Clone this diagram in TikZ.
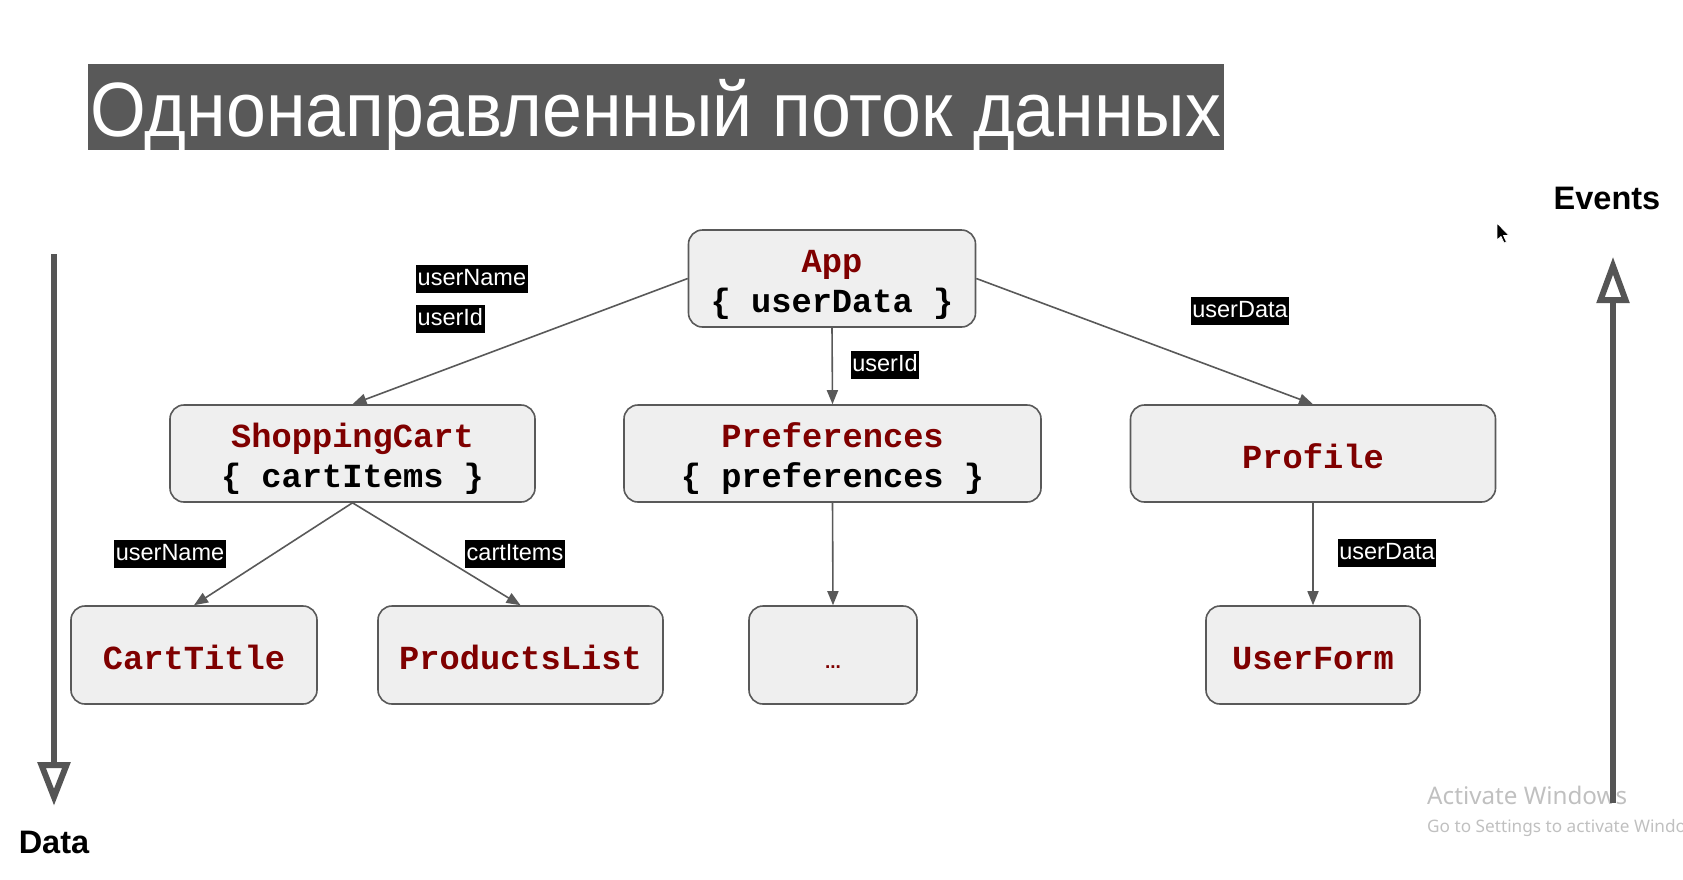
\documentclass[tikz,border=0pt]{standalone}
\usepackage{fontspec}
\usepackage{graphicx}
\setmainfont{Liberation Sans}
\setmonofont{Liberation Mono}
\newfontfamily\wmfont{Noto Sans}
\usetikzlibrary{arrows.meta}

\definecolor{boxfill}{HTML}{EFEFEF}
\definecolor{boxline}{HTML}{595959}
\definecolor{edgegray}{HTML}{595959}
\definecolor{compred}{HTML}{7F0000}
\definecolor{titlebar}{HTML}{595959}
\definecolor{flowgray}{HTML}{555555}
\definecolor{wmgray}{HTML}{C0C0C0}

\newcommand\cname[1]{\textcolor{compred}{#1}}
\newcommand\twolines[2]{\begin{tabular}[t]{@{}c@{}}#1\\#2\end{tabular}}

\begin{document}
\begin{tikzpicture}[x=1pt,y=-1pt,
  comp/.style={draw=boxline, fill=boxfill, line width=1.6pt, rounded corners=14pt,
    minimum height=97pt, inner sep=0pt, align=center,
    font=\ttfamily\bfseries\fontsize{33.7}{39.5}\selectfont},
  onetext/.style={text height=29pt, text depth=0pt},
  twotext/.style={text height=24pt, text depth=36pt},
  prop/.style={fill=black, text=white, font=\fontsize{23.5}{28}\selectfont,
    inner xsep=1.5pt, inner ysep=1.5pt, text height=19pt, text depth=6pt},
  flow/.style={draw=edgegray, line width=1.6pt, -{Triangle[length=14pt,width=11pt]}},
  axis/.style={draw=flowgray, line width=6pt},
  axishead/.style={draw=flowgray, fill=white, line width=6pt, line join=miter},
  axislabel/.style={font=\bfseries\fontsize{32.5}{38}\selectfont, inner sep=0pt}
]
\useasboundingbox (0,0) rectangle (1683,879);

% heading
\node[fill=titlebar, minimum width=1136pt, minimum height=86pt, inner sep=0pt] (titlebar) at (656,107) {};
\node[text=white, anchor=base, inner sep=0pt, font=\fontsize{77}{90}\selectfont] (titletext) at (656,136)
  {\resizebox{1131pt}{\height}{Однонаправленный поток данных}};

% component tree
\node[comp, twotext, minimum width=287pt] (app) at (832,278.5) {\twolines{\cname{App}}{\{ userData \}}};
\node[comp, twotext, minimum width=365pt] (cart) at (352.5,453.5) {\twolines{\cname{ShoppingCart}}{\{ cartItems \}}};
\node[comp, twotext, minimum width=417pt] (prefs) at (832.5,453.5) {\twolines{\cname{Preferences}}{\{ preferences \}}};
\node[comp, onetext, minimum width=365pt] (profile) at (1313,453.5) {\cname{Profile}};
\node[comp, onetext, minimum width=246pt, minimum height=98pt] (carttitle) at (194,655) {\cname{CartTitle}};
\node[comp, onetext, minimum width=285pt, minimum height=98pt] (products) at (520.5,655) {\cname{ProductsList}};
\node[comp, minimum width=168pt, minimum height=98pt, text height=26pt, text depth=0pt,
  font=\bfseries\fontsize{19}{22}\selectfont] (more) at (833,655) {\cname{...}};
\node[comp, onetext, minimum width=214pt, minimum height=98pt] (userform) at (1313,655) {\cname{UserForm}};

% data flowing down the tree
\draw[flow] (app.west) -- (cart.north);
\draw[flow] (app.south) -- (prefs.north);
\draw[flow] (app.east) -- (profile.north);
\draw[flow] (cart.south) -- (carttitle.north);
\draw[flow] (cart.south) -- (products.north);
\draw[flow] (prefs.south) -- (more.north);
\draw[flow] (profile.south) -- (userform.north);

% props passed along the edges
\node[prop, anchor=west] (pname) at (416,279) {userName};
\node[prop, anchor=west] (pid) at (416,319) {userId};
\node[prop] (pdata) at (1240,311) {userData};
\node[prop] (pidmid) at (885,365) {userId};
\node[prop] (pname2) at (170,554) {userName};
\node[prop] (pitems) at (515,554) {cartItems};
\node[prop] (pdata2) at (1387,553) {userData};

% "Data" axis on the left
\coordinate (datatop) at (54,254);
\coordinate (database) at (54,765);
\draw[axis] (datatop) -- (database);
\draw[axishead] (41.5,765) -- (66.5,765) -- (54,797) -- cycle;
\node[axislabel, anchor=base] (datalabel) at (54,853) {Data};

% system watermark
\node[anchor=base west, inner sep=0pt, text=wmgray, font=\wmfont\fontsize{24.2}{29}\selectfont] (wm1) at (1427,804) {Activate Windows};
\node[anchor=base west, inner sep=0pt, text=wmgray, font=\wmfont\fontsize{17.2}{21}\selectfont] (wm2) at (1427,832) {Go to Settings to activate Windo};

% "Events" axis on the right
\coordinate (evbottom) at (1613,803);
\coordinate (evbase) at (1613,300);
\draw[axis] (evbottom) -- (evbase);
\draw[axishead] (1600.5,300) -- (1625.5,300) -- (1613,266) -- cycle;
\node[axislabel, anchor=base] (evlabel) at (1607,209) {Events};

% mouse pointer
\draw[fill=black, draw=white, line width=0.8pt, line join=round, shift={(1497,223)}]
  (0,0) -- (0,17) -- (4,13.5) -- (7,20) -- (9.5,19) -- (6.5,12.5) -- (12,12.5) -- cycle;
\end{tikzpicture}
\end{document}
